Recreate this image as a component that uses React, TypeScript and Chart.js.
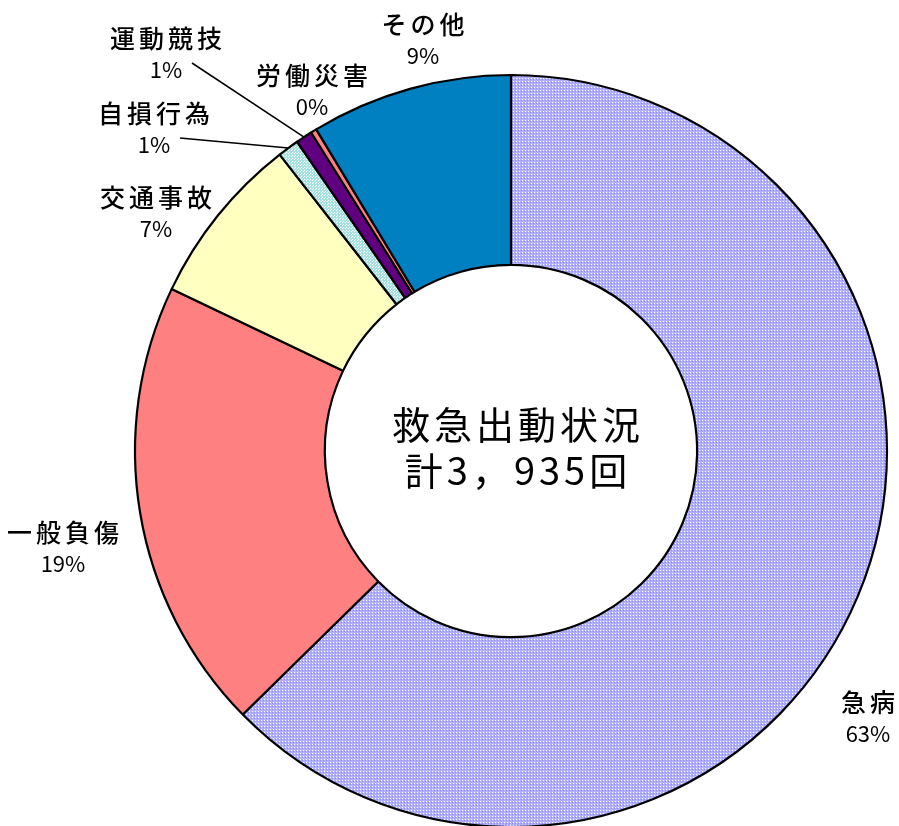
import React, { useEffect, useRef } from "react";
import { Chart, registerables } from "chart.js";

Chart.register(...registerables);

const CATEGORIES = ["急病", "一般負傷", "交通事故", "自損行為", "運動競技", "労働災害", "その他"];
const COUNTS = [2465, 765, 290, 36, 28, 10, 341];
const CENTER_TITLE = ["救急出動状況", "計3，935回"];

// label anchor offsets relative to the doughnut centre (layout, not data)
const LABEL_OFFSETS: [number, number][] = [
  [357, 251],
  [-448, 81],
  [-355, -254],
  [-357, -338],
  [-345, -413],
  [-199, -376],
  [-88, -427],
];
const LEADER = [false, false, false, true, true, false, false];

const FONT_JP = '"Noto Sans CJK JP", "Noto Sans", sans-serif';

function makePattern(ctx: CanvasRenderingContext2D, base: string, light: string, dark: string | null) {
  const c = document.createElement("canvas");
  c.width = 3;
  c.height = 3;
  const p = c.getContext("2d")!;
  p.fillStyle = base;
  p.fillRect(0, 0, 3, 3);
  p.fillStyle = light;
  p.fillRect(0, 0, 1, 1);
  if (dark) {
    p.fillStyle = dark;
    p.fillRect(2, 1, 1, 1);
  } else {
    p.fillRect(1, 2, 1, 1);
  }
  return ctx.createPattern(c, "repeat")!;
}

export default function App() {
  const ref = useRef<HTMLCanvasElement | null>(null);

  useEffect(() => {
    const canvas = ref.current!;
    const ctx = canvas.getContext("2d")!;
    const total = COUNTS.reduce((a, b) => a + b, 0);
    const pctLabels = COUNTS.map((v) => Math.round((v / total) * 100) + "%");

    const colors: (string | CanvasPattern)[] = [
      makePattern(ctx, "#b0b0ff", "#ffffff", "#8c8cf2"),
      "#ff8080",
      "#ffffc0",
      makePattern(ctx, "#a6e2e2", "#ffffff", null),
      "#600080",
      "#ff8080",
      "#0080c0",
    ];

    const labelPlugin = {
      id: "labels",
      afterDraw(chart: any) {
        const meta = chart.getDatasetMeta(0);
        const arcs = meta.data;
        if (!arcs.length) return;
        const cx = arcs[0].x;
        const cy = arcs[0].y;
        const c = chart.ctx as CanvasRenderingContext2D;
        c.save();
        c.fillStyle = "#000";
        c.textAlign = "center";
        c.textBaseline = "middle";
        arcs.forEach((arc: any, i: number) => {
          if (!LEADER[i]) return;
          const mid = (arc.startAngle + arc.endAngle) / 2;
          const ex = cx + Math.cos(mid) * arc.outerRadius;
          const ey = cy + Math.sin(mid) * arc.outerRadius;
          const lx = cx + LABEL_OFFSETS[i][0] + 26;
          const ly = cy + LABEL_OFFSETS[i][1] + 32 - 7;
          c.beginPath();
          c.strokeStyle = "#000";
          c.lineWidth = 1.5;
          c.moveTo(lx, ly);
          c.lineTo(ex, ey);
          c.stroke();
        });
        CATEGORIES.forEach((name, i) => {
          const x = cx + LABEL_OFFSETS[i][0];
          const y = cy + LABEL_OFFSETS[i][1];
          c.font = `500 25px ${FONT_JP}`;
          (c as any).letterSpacing = "4px";
          c.fillText(name, x + 2, y);
          c.font = `400 22px ${FONT_JP}`;
          (c as any).letterSpacing = "0px";
          c.fillText(pctLabels[i], x, y + 32);
        });
        c.font = `400 38px ${FONT_JP}`;
        (c as any).letterSpacing = "4px";
        c.fillText(CENTER_TITLE[0], cx + 7, cy - 26);
        c.fillText(CENTER_TITLE[1], cx + 7, cy + 20);
        c.restore();
      },
    };

    const chart = new Chart(canvas, {
      type: "doughnut",
      data: {
        labels: CATEGORIES,
        datasets: [
          {
            data: COUNTS,
            backgroundColor: colors as any,
            borderColor: "#000000",
            borderWidth: 2.2,
            hoverOffset: 0,
          },
        ],
      },
      options: {
        responsive: false,
        animation: false,
        devicePixelRatio: 1,
        radius: 376,
        cutout: "49.5%",
        rotation: 0,
        circumference: 360,
        layout: { padding: { left: 135, right: 12, top: 75, bottom: 13 } },
        plugins: {
          legend: { display: false },
          tooltip: { enabled: false },
        },
        events: [],
      } as any,
      plugins: [labelPlugin],
    });
    return () => chart.destroy();
  }, []);

  return (
    <div
      style={{
        position: "fixed",
        left: 0,
        top: 0,
        width: 899,
        height: 826,
        overflow: "hidden",
        background: "#ffffff",
      }}
    >
      <canvas ref={ref} width={899} height={840} style={{ width: 899, height: 840, display: "block" }} />
    </div>
  );
}
